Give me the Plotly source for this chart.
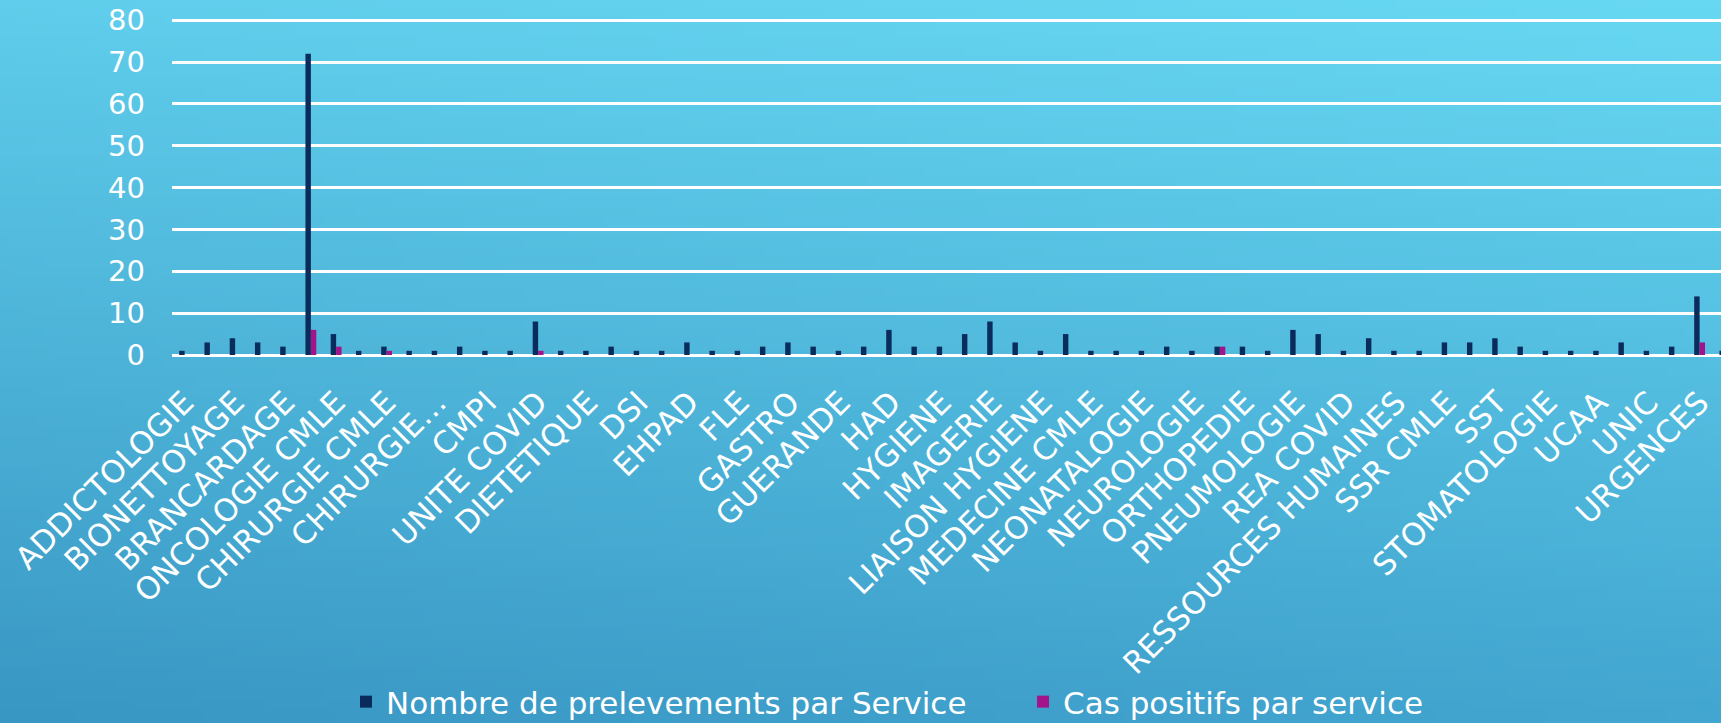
import base64, struct, zlib
import plotly.graph_objects as go

# ---- data (62 services; only every other service name is printed on the axis) ----
shown_labels = [
    "ADDICTOLOGIE", "BIONETTOYAGE", "BRANCARDAGE", "ONCOLOGIE CMLE", "CHIRURGIE CMLE",
    "CHIRURGIE…", "CMPI", "UNITE COVID", "DIETETIQUE", "DSI", "EHPAD", "FLE", "GASTRO",
    "GUERANDE", "HAD", "HYGIENE", "IMAGERIE", "LIAISON HYGIENE", "MEDECINE CMLE",
    "NEONATALOGIE", "NEUROLOGIE", "ORTHOPEDIE", "PNEUMOLOGIE", "REA COVID",
    "RESSOURCES HUMAINES", "SSR CMLE", "SST", "STOMATOLOGIE", "UCAA", "UNIC", "URGENCES",
]
prelevements = [
    1, 3, 4, 3, 2, 72, 5, 1, 2, 1, 1, 2, 1, 1, 8, 1,
    1, 2, 1, 1, 3, 1, 1, 2, 3, 2, 1, 2, 6, 2, 2, 5,
    8, 3, 1, 5, 1, 1, 1, 2, 1, 2, 2, 1, 6, 5, 1, 4,
    1, 1, 3, 3, 4, 2, 1, 1, 1, 3, 1, 2, 14, 1,
]
positifs = [
    0, 0, 0, 0, 0, 6, 2, 0, 1, 0, 0, 0, 0, 0, 1, 0,
    0, 0, 0, 0, 0, 0, 0, 0, 0, 0, 0, 0, 0, 0, 0, 0,
    0, 0, 0, 0, 0, 0, 0, 0, 0, 2, 0, 0, 0, 0, 0, 0,
    0, 0, 0, 0, 0, 0, 0, 0, 0, 0, 0, 0, 3, 0,
]
series_names = ["Nombre de prelevements par Service", "Cas positifs par service"]
y_ticks = [0, 10, 20, 30, 40, 50, 60, 70, 80]

x_idx = list(range(len(prelevements)))
tick_idx = list(range(0, len(prelevements), 2))

# ---- background gradient image (styling only) ----
def gradient_png(w, h):
    tl, tr = (95, 205, 235), (103, 216, 242)
    bl, br = (57, 151, 195), (66, 166, 208)
    rows = []
    for j in range(h):
        v = j / (h - 1)
        row = bytearray([0])
        for i in range(w):
            u = i / (w - 1)
            for k in range(3):
                top = tl[k] + (tr[k] - tl[k]) * u
                bot = bl[k] + (br[k] - bl[k]) * u
                row.append(int(round(top + (bot - top) * v)))
        rows.append(bytes(row))
    raw = b"".join(rows)
    def chunk(t, d):
        c = struct.pack(">I", len(d)) + t + d
        return c + struct.pack(">I", zlib.crc32(t + d) & 0xffffffff)
    png = b"\x89PNG\r\n\x1a\n"
    png += chunk(b"IHDR", struct.pack(">IIBBBBB", w, h, 8, 2, 0, 0, 0))
    png += chunk(b"IDAT", zlib.compress(raw, 9))
    png += chunk(b"IEND", b"")
    return "data:image/png;base64," + base64.b64encode(png).decode()

W, H = 1721, 723
ML, MR, MT, MB = 172, 0, 16, 368
PW, PH = W - ML - MR, H - MT - MB

FONT = "DejaVu Sans"

fig = go.Figure()
fig.add_bar(x=x_idx, y=prelevements, name=series_names[0],
            marker=dict(color="#0A2C5C", line=dict(width=0)))
fig.add_bar(x=x_idx, y=positifs, name=series_names[1],
            marker=dict(color="#A3148A", line=dict(width=0)))

fig.update_layout(
    width=W, height=H,
    margin=dict(l=ML, r=MR, t=MT, b=MB, pad=0, autoexpand=False),
    barmode="group", bargap=0.57, bargroupgap=0,
    paper_bgcolor="#4FB6DA", plot_bgcolor="rgba(0,0,0,0)",
    font=dict(family=FONT, color="white", size=28),
    images=[dict(source=gradient_png(172, 72), xref="paper", yref="paper",
                 x=-ML / PW, y=1 + MT / PH, sizex=W / PW, sizey=H / PH,
                 sizing="stretch", layer="below", xanchor="left", yanchor="top")],
    xaxis=dict(range=[-0.5, -0.5 + PW / 25.25], tickmode="array",
               tickvals=tick_idx, ticktext=shown_labels, tickangle=-45,
               tickfont=dict(size=31, color="white", family=FONT),
               showgrid=False, zeroline=False, showline=False, ticks="",
               ticklabelstandoff=22, automargin=False),
    yaxis=dict(range=[0, 81], tickmode="array", tickvals=y_ticks,
               tickfont=dict(size=29, color="white", family=FONT),
               showgrid=True, gridcolor="white", gridwidth=2.5,
               zeroline=True, zerolinecolor="white", zerolinewidth=2.5,
               showline=False, ticks="", ticklabelstandoff=26,
               automargin=False),
    legend=dict(orientation="h", xref="container", yref="container",
                x=346 / W, xanchor="left",
                y=(H - 702) / H, yanchor="middle",
                entrywidth=632, entrywidthmode="pixels",
                font=dict(size=31, color="white", family=FONT),
                bgcolor="rgba(0,0,0,0)"),
    showlegend=True,
)

fig.write_html("out.html", config={"displayModeBar": False},
               post_script="document.body.style.margin='0';document.body.style.overflow='hidden';")
